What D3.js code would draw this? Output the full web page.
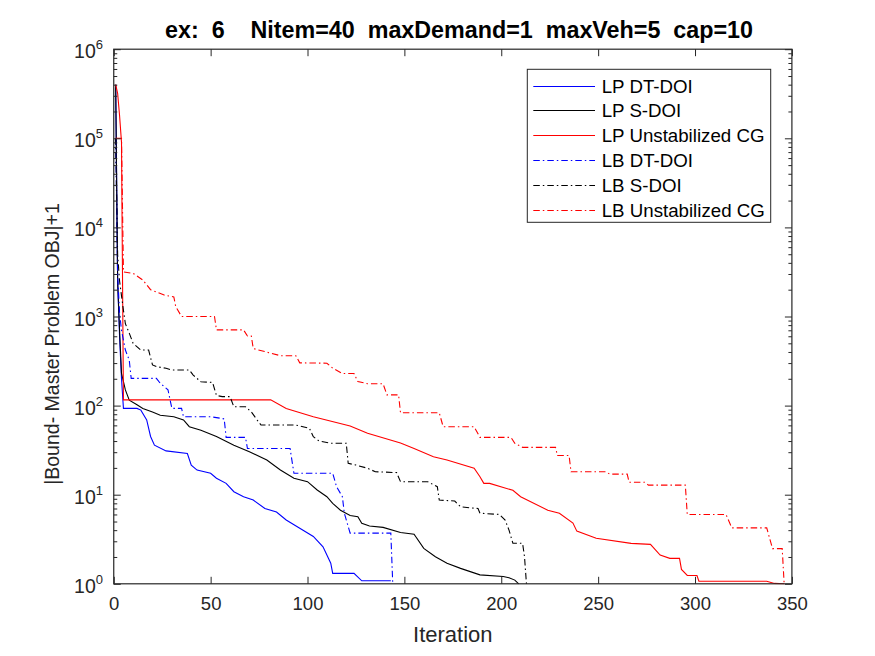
<!DOCTYPE html>
<html><head><meta charset="utf-8">
<script src="https://cdn.jsdelivr.net/npm/d3@7"></script>
<style>
body{margin:0;background:#fff}
svg{display:block}
text{font-family:"Liberation Sans",Arial,Helvetica,sans-serif}
</style>
</head><body>
<svg id="c" width="875" height="656"></svg>
<script>
// ---- data ----
const titleText = "ex:  6    Nitem=40  maxDemand=1  maxVeh=5  cap=10";
const xLabel = "Iteration";
const yLabel = "|Bound- Master Problem OBJ|+1";
const xTicks = [0, 50, 100, 150, 200, 250, 300, 350];
const yTickExps = [0, 1, 2, 3, 4, 5, 6];
const seriesNames = ["LP DT-DOI", "LP S-DOI", "LP Unstabilized CG", "LB DT-DOI", "LB S-DOI", "LB Unstabilized CG"];

// [iteration, |Bound - master OBJ| + 1]
const lpDtDoi = [[1,400000],[2,2500],[3,600],[4,200],[5,93],[12,93],[14,89],[17,69],[19,45],[21,36],[27,31],[38,29],[40,21.5],[43,18.9],[50,17.4],[53,15.3],[58,13.4],[62,10.8],[67,9.5],[72,8.7],[78,7.0],[84,6.4],[89,5.2],[96,4.2],[103,3.4],[108,2.6],[112,1.7],[113,1.31],[124,1.31],[128,1.08],[143,1.08]];
const lpSDoi = [[1,400000],[2,2500],[3,700],[4,230],[6,150],[8,115],[12,102],[15,93],[20,85],[24,78],[31,75],[36,69],[39,58],[45,53],[53,45],[62,36],[70,30.4],[79,24.5],[86,18.9],[93,15.3],[100,14.0],[105,11.3],[110,9.5],[113,8.0],[117,6.7],[122,5.85],[126,5.66],[128,4.78],[132,4.46],[139,4.3],[148,3.77],[155,3.6],[160,2.5],[166,2.01],[172,1.7],[179,1.49],[184,1.37],[189,1.26],[201,1.21],[204,1.17],[207,1.1],[209,1]];
const lpUnstab = [[1,400000],[2,320000],[3,180000],[4,90000],[5,116],[81,116],[89,93],[103,75],[122,59],[131,49],[148,38],[155,33],[165,26.7],[172,24.5],[186,19.8],[189,15.9],[191,13.4],[194,13.4],[206,11.2],[210,9.5],[224,6.7],[230,6.2],[237,4.8],[239,3.9],[249,3.24],[267,2.84],[277,2.77],[282,2.1],[287,1.93],[292,1.93],[293,1.45],[296,1.24],[301,1.24],[302,1.07],[337,1.07],[341,1.01],[346,1]];
const lbDtDoi = [[1,100000],[2,3000],[3,1100],[4,700],[6,420],[8,324],[9,202],[22,202],[24,178],[28,150],[30,93],[35,93],[36,75],[50,75],[57,71],[58,44],[68,44],[69,33],[91,33],[93,17.4],[113,17.4],[115,12.3],[118,9.5],[119,6.2],[122,3.7],[143,3.7],[144,1]];
const lbSDoi = [[1,100000],[2,5000],[3,2500],[5,1175],[6,830],[8,650],[10,500],[14,420],[18,420],[20,286],[22,274],[27,262],[30,251],[39,251],[41,220],[45,185],[51,182],[53,130],[56,126],[60,126],[62,97],[68,97],[71,85],[74,69],[76,60.5],[94,60.5],[101,55.6],[103,44.8],[106,40],[112,37.8],[120,37.8],[121,22.5],[125,21.5],[131,19.8],[135,18.1],[146,17.7],[148,14.0],[162,14.0],[167,12.3],[168,8.7],[176,8.5],[179,7.3],[188,7.0],[189,6.2],[199,6.0],[202,5.2],[204,4.0],[206,2.85],[211,2.85],[212,2.01],[213,1]];
const lbUnstab = [[1,100000],[4,100000],[5,3160],[10,3050],[15,2570],[19,2000],[26,1740],[31,1660],[32,1290],[35,1000],[52,1000],[53,708],[67,708],[69,603],[71,603],[72,437],[79,398],[86,363],[94,363],[96,302],[110,299],[113,263],[118,229],[124,229],[126,186],[131,176],[139,176],[141,132],[147,132],[148,83],[168,83],[170,58],[186,58],[189,44],[205,44],[207,37.8],[211,34],[228,34],[229,27.5],[235,27.5],[236,18.1],[254,18.1],[256,17],[265,17],[266,13.8],[274,13.8],[276,12.8],[295,12.8],[296,6.0],[316,6.0],[319,4.24],[337,4.24],[340,2.48],[345,2.48],[346,1]];

const seriesData = [lpDtDoi, lpSDoi, lpUnstab, lbDtDoi, lbSDoi, lbUnstab];
const seriesColors = ["#0000ff", "#000000", "#ff0000", "#0000ff", "#000000", "#ff0000"];
const seriesDash = ["none", "none", "none", "6.5,3,1.5,3", "6.5,3,1.5,3", "6.5,3,1.5,3"];

// ---- drawing ----
const svg = d3.select("#c");
const L = 113.75, R = 791.9, T = 49.2, B = 583.8;
const axCol = "#262626";
const x = d3.scaleLinear().domain([0, 350]).range([L, R]);
const y = d3.scaleLog().domain([1, 1e6]).range([B, T]);

svg.append("rect").attr("x",0).attr("y",0).attr("width",875).attr("height",656).attr("fill","#fff");
svg.append("rect").attr("x",L).attr("y",T).attr("width",R-L).attr("height",B-T).attr("fill","#fff");

svg.append("clipPath").attr("id","clip").append("rect")
  .attr("x",L).attr("y",T-1).attr("width",R-L).attr("height",B-T+2);

const line = d3.line().x(d => x(d[0])).y(d => y(d[1]));
const gLines = svg.append("g").attr("clip-path","url(#clip)");
seriesData.forEach((s, i) => {
  gLines.append("path").datum(s).attr("d", line)
    .attr("fill","none").attr("stroke", seriesColors[i])
    .attr("stroke-width", 1.1)
    .attr("stroke-dasharray", seriesDash[i]);
});

// minor log ticks
const minors = [];
for (let e = 0; e < 6; e++) for (let k = 2; k <= 9; k++) minors.push(k * Math.pow(10, e));
const majors = yTickExps.map(e => Math.pow(10, e));

function styleAxis(g){
  g.select(".domain").remove();
  g.selectAll("line").attr("stroke", axCol).attr("stroke-width", 1);
  g.selectAll("text").attr("fill", axCol);
}

// bottom & top x axes
svg.append("g").attr("transform",`translate(0,${B})`)
  .call(d3.axisBottom(x).tickValues(xTicks).tickSize(-7).tickPadding(13).tickFormat(d3.format("d")))
  .call(g => { styleAxis(g); g.selectAll("text").style("font-size","18.5px").style("font-family",'"Liberation Sans",Arial,sans-serif'); });
svg.append("g").attr("transform",`translate(0,${T})`)
  .call(d3.axisTop(x).tickValues(xTicks).tickSize(-7).tickFormat(""))
  .call(styleAxis);

// left & right y axes (majors + minors)
svg.append("g").attr("transform",`translate(${L},0)`)
  .call(d3.axisLeft(y).tickValues(majors).tickSize(-7).tickFormat(""))
  .call(styleAxis);
svg.append("g").attr("transform",`translate(${L},0)`)
  .call(d3.axisLeft(y).tickValues(minors).tickSize(-3.5).tickFormat(""))
  .call(styleAxis);
svg.append("g").attr("transform",`translate(${R},0)`)
  .call(d3.axisRight(y).tickValues(majors).tickSize(-7).tickFormat(""))
  .call(styleAxis);
svg.append("g").attr("transform",`translate(${R},0)`)
  .call(d3.axisRight(y).tickValues(minors).tickSize(-3.5).tickFormat(""))
  .call(styleAxis);

// y tick labels with superscripts
const yl = svg.append("g");
yTickExps.forEach(e => {
  const yy = y(Math.pow(10, e));
  const t = yl.append("text").attr("x", 103).attr("y", yy + 9)
    .attr("text-anchor","end").attr("fill", axCol).style("font-size","19.5px");
  t.append("tspan").text("10");
  t.append("tspan").attr("dy", -9).style("font-size","13px").text(String(e));
});

// frame
svg.append("rect").attr("x",L).attr("y",T).attr("width",R-L).attr("height",B-T)
  .attr("fill","none").attr("stroke",axCol).attr("stroke-width",1.2);

// labels
svg.append("text").attr("x",(L+R)/2).attr("y",642).attr("text-anchor","middle")
  .attr("fill",axCol).style("font-size","22px").text(xLabel);
svg.append("text").attr("transform",`translate(59,344) rotate(-90)`)
  .attr("text-anchor","middle").attr("fill",axCol).style("font-size","19.5px").text(yLabel);
svg.append("text").attr("x",459).attr("y",38).attr("text-anchor","middle")
  .attr("fill","#000").style("font-size","23.3px").style("font-weight","bold")
  .style("white-space","pre").attr("xml:space","preserve").text(titleText);

// legend
const lg = svg.append("g");
lg.append("rect").attr("x",527.3).attr("y",69.3).attr("width",243.4).attr("height",153)
  .attr("fill","#fff").attr("stroke",axCol).attr("stroke-width",1);
const rowY = [86.5, 110.5, 135.5, 160.5, 185.5, 210.5];
seriesNames.forEach((n, i) => {
  lg.append("line").attr("x1",533.3).attr("x2",595).attr("y1",rowY[i]).attr("y2",rowY[i])
    .style("stroke",seriesColors[i]).attr("stroke-width",1.1).attr("stroke-dasharray",seriesDash[i]);
  lg.append("text").attr("x",601.7).attr("y",rowY[i]).attr("dy","0.35em")
    .attr("fill","#000").style("font-size","18.7px").text(n);
});
</script>
</body></html>
